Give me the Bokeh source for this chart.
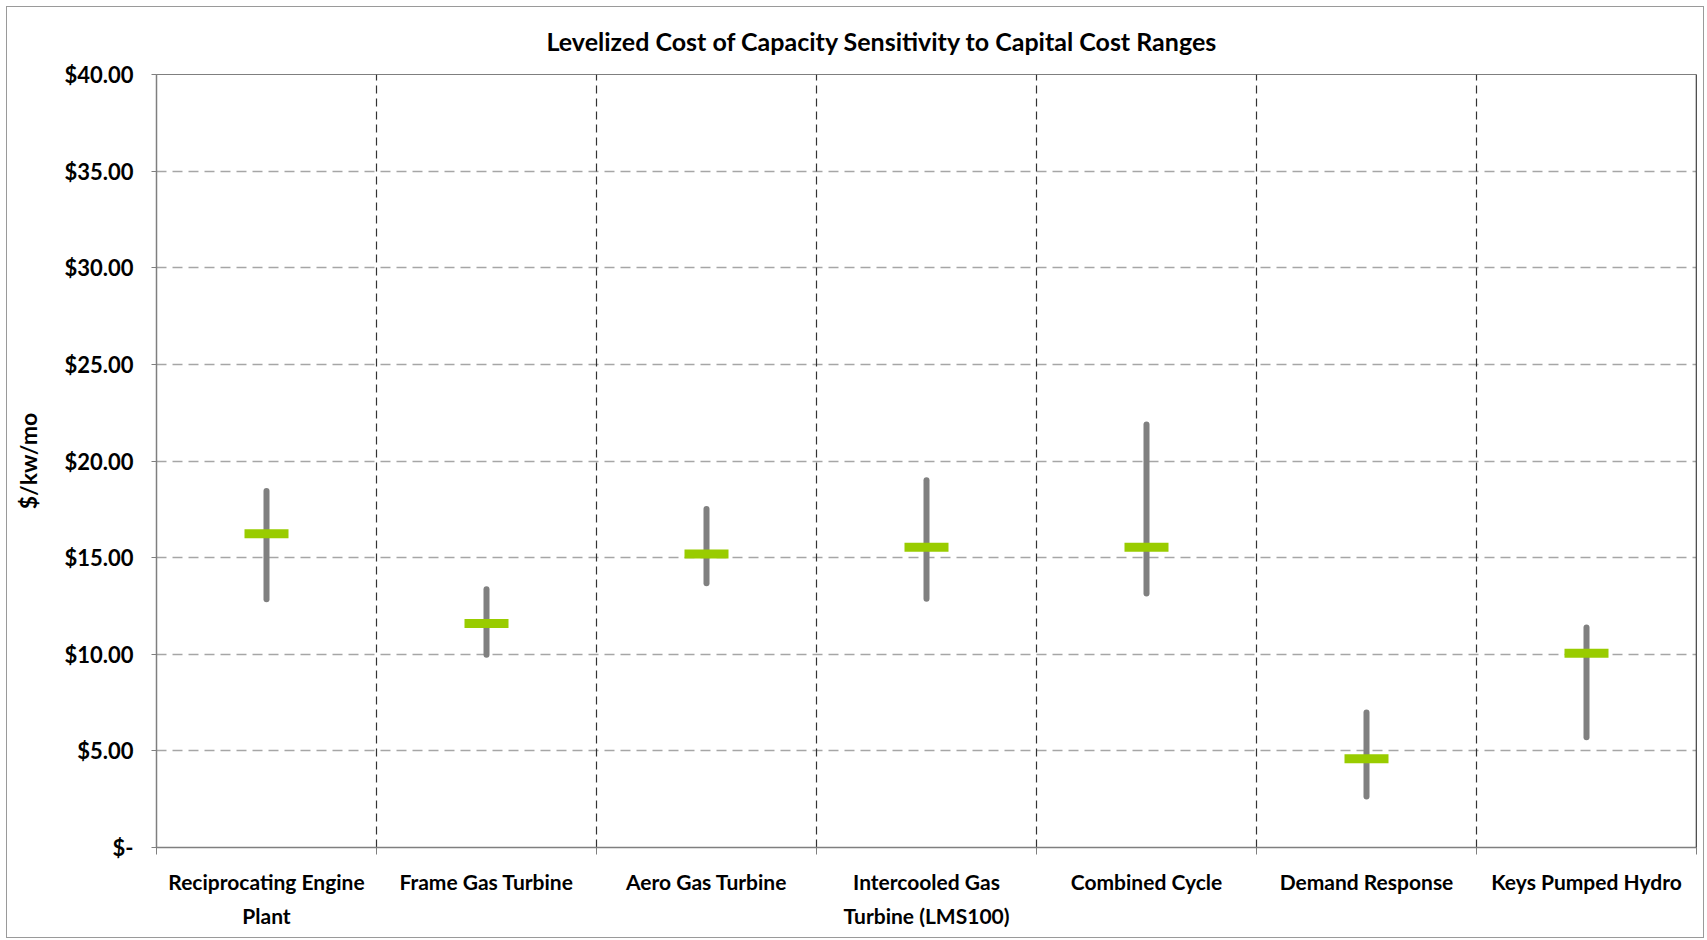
from bokeh.plotting import figure
from bokeh.models import (ColumnDataSource, Range1d, FixedTicker, LinearAxis, NumeralTickFormatter,
                          Grid, Span, CustomLabelingPolicy)
from bokeh.embed import file_html
from bokeh.resources import INLINE

# data ($/kw/mo)
title_text = "Levelized Cost of Capacity Sensitivity to Capital Cost Ranges"
categories = ["Reciprocating Engine\nPlant", "Frame Gas Turbine", "Aero Gas Turbine",
              "Intercooled Gas\nTurbine (LMS100)", "Combined Cycle", "Demand Response",
              "Keys Pumped Hydro"]
low_cost = [12.85, 9.98, 13.68, 12.87, 13.14, 2.64, 5.71]
high_cost = [18.45, 13.36, 17.51, 19.01, 21.89, 6.99, 11.39]
base_cost = [16.23, 11.59, 15.19, 15.54, 15.54, 4.59, 10.05]
y_ticks = [0, 5, 10, 15, 20, 25, 30, 35, 40]

FONT = "Lato"
x_pos = [i + 0.5 for i in range(len(categories))]
source = ColumnDataSource(data=dict(x=x_pos, low=low_cost, high=high_cost, base=base_cost))

p = figure(width=1698, height=932, output_backend="svg", toolbar_location=None,
           x_range=Range1d(0, len(categories)), y_range=Range1d(0, 40),
           x_axis_type=None, min_border_left=149, min_border_right=9,
           min_border_top=67, min_border_bottom=92)
p.background_fill_color = "white"
p.border_fill_color = "white"
p.outline_line_color = "#7f7f7f"
p.styles = {"border": "1px solid #9a9a9a", "margin-left": "6px", "margin-top": "6px"}

p.title.text = title_text
p.title.align = "left"
p.title.offset = 390
p.title.vertical_align = "top"
p.title.standoff = 34
p.title.text_font = FONT
p.title.text_font_size = "25px"
p.title.text_font_style = "bold"
p.title.text_color = "black"

# y axis
p.yaxis.ticker = FixedTicker(ticks=y_ticks)
p.yaxis.formatter = NumeralTickFormatter(format="$0.00")
p.yaxis.major_label_overrides = {0: "$-"}
p.yaxis.minor_tick_line_color = None
p.yaxis.major_tick_in = 0
p.yaxis.major_tick_out = 5
p.yaxis.major_tick_line_color = "#7f7f7f"
p.yaxis.axis_line_color = "#7f7f7f"
p.yaxis.axis_line_width = 1.5
p.yaxis.major_label_standoff = 18
p.yaxis.major_label_text_font = FONT
p.yaxis.major_label_text_font_size = "22px"
p.yaxis.major_label_text_font_style = "bold"
p.yaxis.major_label_text_color = "black"
p.yaxis.axis_label = "$/kw/mo"
p.yaxis.axis_label_text_font = FONT
p.yaxis.axis_label_text_font_size = "23px"
p.yaxis.axis_label_text_font_style = "bold"
p.yaxis.axis_label_text_color = "black"
p.yaxis.axis_label_standoff = 19

# bottom axis: boundary tick marks only, no labels drawn
boundaries = list(range(len(categories) + 1))
xa = LinearAxis(ticker=FixedTicker(ticks=boundaries))
xa.major_label_policy = CustomLabelingPolicy(
    code="for (let i = 0; i < indices.size; i++) { indices.unset(i) }\nreturn indices")
xa.major_label_text_font_size = "1px"
xa.major_label_standoff = 0
xa.major_tick_in = 0
xa.major_tick_out = 7
xa.minor_tick_line_color = None
xa.major_tick_line_color = "#7f7f7f"
xa.axis_line_color = "#7f7f7f"
xa.axis_line_width = 1.5
p.add_layout(xa, "below")

# bottom axis: category names at centres
xl = LinearAxis(ticker=FixedTicker(ticks=x_pos))
xl.major_label_overrides = {x: c for x, c in zip(x_pos, categories)}
xl.axis_line_color = None
xl.major_tick_line_color = None
xl.minor_tick_line_color = None
xl.major_label_standoff = 4
xl.major_label_text_font = FONT
xl.major_label_text_font_size = "21px"
xl.major_label_text_font_style = "bold"
xl.major_label_text_color = "black"
xl.major_label_text_line_height = 1.38
p.add_layout(xl, "below")

# grids
p.ygrid.ticker = FixedTicker(ticks=y_ticks)
p.ygrid.grid_line_color = "#a6a6a6"
p.ygrid.grid_line_dash = "10 6"
p.ygrid.grid_line_width = 1.3
p.xgrid.visible = False
vg = Grid(dimension=0, ticker=FixedTicker(ticks=boundaries[1:-1]),
          grid_line_color="#333333", grid_line_dash="8 5", grid_line_width=1.2)
p.add_layout(vg)
p.add_layout(Span(location=len(categories), dimension="height", line_color="#222222", line_width=1.5))

# range lines and base-case markers
p.segment(x0="x", y0="low", x1="x", y1="high", source=source,
          line_color="#808080", line_width=6, line_cap="round")
p.rect(x="x", y="base", width=44, height=9, width_units="screen", height_units="screen",
       source=source, fill_color="#99cc00", line_color=None)

open("out.html", "w").write(file_html(p, INLINE))
